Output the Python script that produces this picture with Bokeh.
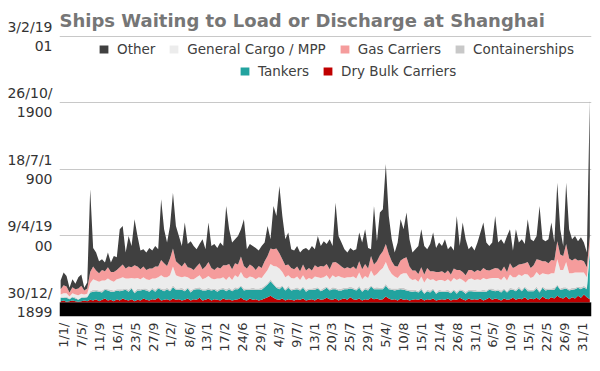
import math
import pandas as pd
from bokeh.plotting import figure
from bokeh.models import (ColumnDataSource, Range1d, FixedTicker, Legend,
                          LegendItem, BoxAnnotation)
from bokeh.embed import file_html
from bokeh.resources import INLINE

# ---------------- data ----------------
start_date = "2013-12-09"
step = "21D"

# top of the stack (total ships waiting)
total_waiting = [
    33, 45, 40, 22, 35, 28, 38, 42, 22, 30,
    170, 82, 75, 62, 65, 60, 75, 60, 70, 68,
    110, 115, 75, 100, 85, 125, 100, 78, 80, 75,
    82, 78, 85, 80, 155, 110, 90, 115, 165, 115,
    100, 85, 120, 88, 92, 85, 80, 88, 95, 80,
    120, 85, 88, 82, 90, 85, 145, 110, 90, 95,
    100, 110, 125, 80, 88, 85, 82, 78, 85, 90,
    115, 95, 145, 130, 175, 130, 95, 105, 80, 78,
    85, 75, 80, 82, 78, 85, 80, 100, 85, 92,
    88, 95, 85, 150, 100, 90, 80, 75, 82, 78,
    80, 105, 90, 110, 82, 80, 145, 92, 135, 140,
    208, 130, 95, 75, 90, 125, 110, 135, 95, 75,
    80, 85, 110, 85, 80, 88, 105, 82, 90, 85,
    95, 80, 85, 78, 130, 85, 120, 95, 80, 85,
    78, 90, 105, 120, 90, 85, 90, 130, 90, 95,
    88, 100, 110, 78, 110, 90, 95, 88, 125, 95,
    92, 100, 145, 95, 92, 95, 120, 90, 180, 110,
    85, 180, 110, 95, 100, 92, 98, 90, 75, 305,
]

dry_bulk = [
    2, 3, 1, 2, 3, 2, 1, 2, 3, 2,
    4, 3, 5, 2, 4, 6, 3, 4, 2, 5,
    3, 6, 4, 3, 5, 2, 4, 3, 6, 4,
    3, 5, 4, 7, 3, 4, 5, 3, 6, 4,
    5, 3, 4, 6, 3, 5, 4, 7, 3, 4,
    6, 3, 5, 4, 3, 6, 4, 5, 3, 4,
    5, 7, 4, 3, 6, 4, 5, 3, 4, 6,
    8, 10, 7, 5, 4, 6, 3, 5, 4, 3,
    5, 4, 6, 3, 4, 5, 3, 6, 4, 5,
    7, 5, 4, 6, 3, 5, 6, 4, 8, 5,
    4, 6, 3, 5, 4, 7, 5, 6, 4, 5,
    9, 6, 4, 5, 3, 6, 4, 5, 3, 4,
    5, 4, 6, 3, 5, 4, 6, 3, 4, 5,
    4, 6, 3, 5, 4, 7, 5, 3, 6, 4,
    5, 4, 6, 3, 5, 7, 4, 6, 5, 3,
    6, 4, 5, 7, 4, 6, 5, 8, 4, 6,
    5, 7, 4, 9, 6, 5, 8, 6, 10, 7,
    6, 9, 5, 8, 6, 10, 7, 12, 8, 5,
]

tankers = [
    5, 4, 6, 3, 5, 4, 3, 5, 4, 6,
    11, 13, 12, 14, 11, 13, 15, 12, 14, 13,
    14, 12, 15, 13, 16, 12, 14, 15, 13, 14,
    13, 15, 12, 14, 16, 13, 15, 14, 17, 15,
    14, 16, 13, 15, 12, 14, 16, 13, 15, 14,
    13, 15, 14, 12, 16, 14, 13, 15, 14, 16,
    15, 17, 14, 16, 13, 15, 14, 16, 15, 17,
    19, 22, 20, 17, 16, 18, 15, 17, 14, 16,
    15, 14, 16, 13, 15, 14, 16, 15, 13, 14,
    15, 13, 16, 14, 15, 13, 14, 16, 13, 15,
    14, 16, 13, 15, 14, 17, 15, 14, 16, 15,
    16, 14, 15, 13, 16, 14, 15, 13, 14, 12,
    12, 11, 13, 10, 12, 11, 13, 10, 12, 11,
    12, 10, 11, 13, 9, 11, 12, 10, 11, 13,
    11, 12, 10, 13, 11, 12, 14, 11, 13, 12,
    13, 11, 14, 12, 13, 15, 12, 14, 13, 11,
    12, 14, 11, 13, 12, 14, 11, 13, 15, 12,
    14, 12, 13, 11, 14, 12, 13, 11, 12, 72,
]

containerships = [
    1, 1, 2, 1, 1, 2, 1, 1, 2, 1,
    2, 3, 2, 2, 3, 2, 2, 3, 2, 2,
    3, 2, 2, 3, 2, 2, 3, 2, 2, 3,
    2, 2, 3, 2, 2, 3, 2, 2, 3, 2,
    2, 3, 2, 2, 3, 2, 2, 3, 2, 2,
    3, 2, 2, 3, 2, 2, 3, 2, 2, 3,
    2, 2, 3, 2, 2, 3, 2, 2, 3, 2,
    2, 3, 2, 2, 3, 2, 2, 3, 2, 2,
    3, 2, 2, 3, 2, 2, 3, 2, 2, 3,
    2, 2, 3, 2, 2, 3, 2, 2, 3, 2,
    2, 3, 2, 2, 3, 2, 2, 3, 2, 2,
    3, 2, 2, 3, 2, 2, 3, 2, 2, 3,
    2, 2, 3, 2, 2, 3, 2, 2, 3, 2,
    2, 3, 2, 2, 3, 2, 2, 3, 2, 2,
    3, 2, 2, 3, 2, 2, 3, 2, 2, 3,
    2, 2, 3, 2, 2, 3, 2, 2, 3, 2,
    2, 3, 2, 2, 3, 2, 2, 3, 2, 2,
    3, 2, 2, 3, 2, 2, 3, 2, 2, 2,
]

general_cargo = [
    4, 6, 5, 3, 5, 4, 6, 5, 3, 4,
    12, 16, 14, 13, 15, 12, 16, 14, 13, 15,
    16, 18, 15, 17, 14, 20, 16, 15, 17, 14,
    16, 14, 17, 15, 20, 18, 16, 22, 28, 20,
    18, 16, 20, 15, 17, 14, 16, 18, 15, 17,
    18, 16, 14, 17, 15, 16, 14, 17, 15, 18,
    16, 20, 17, 15, 18, 16, 14, 17, 15, 18,
    20, 23, 26, 30, 28, 20, 18, 16, 17, 15,
    16, 14, 17, 15, 16, 14, 17, 15, 18, 16,
    17, 15, 18, 16, 20, 17, 15, 16, 14, 17,
    16, 20, 17, 18, 16, 22, 18, 20, 26, 30,
    33, 28, 22, 18, 16, 20, 22, 24, 18, 15,
    16, 14, 17, 15, 18, 16, 14, 17, 15, 16,
    14, 16, 15, 17, 18, 16, 15, 14, 16, 17,
    15, 17, 16, 18, 17, 15, 16, 18, 17, 16,
    18, 16, 20, 17, 19, 18, 21, 19, 22, 18,
    20, 22, 24, 20, 22, 21, 23, 22, 38, 28,
    26, 38, 24, 22, 23, 21, 22, 20, 16, 5,
]

gas_carriers = [
    8, 12, 10, 6, 9, 8, 10, 12, 6, 8,
    17, 19, 15, 13, 16, 14, 17, 13, 15, 14,
    17, 19, 15, 18, 16, 20, 17, 15, 16, 14,
    17, 15, 18, 16, 23, 21, 17, 25, 27, 21,
    19, 16, 21, 15, 17, 14, 16, 18, 15, 17,
    21, 16, 14, 17, 15, 18, 22, 19, 16, 18,
    19, 23, 17, 15, 18, 16, 14, 17, 15, 19,
    21, 23, 25, 27, 23, 19, 18, 16, 15, 14,
    15, 13, 16, 14, 15, 13, 17, 15, 18, 16,
    17, 15, 19, 23, 18, 16, 14, 15, 13, 15,
    14, 17, 15, 18, 14, 22, 17, 19, 23, 25,
    27, 23, 19, 16, 17, 21, 22, 24, 17, 14,
    13, 12, 14, 12, 15, 13, 12, 14, 12, 13,
    12, 13, 11, 14, 15, 13, 12, 11, 14, 13,
    12, 14, 13, 15, 14, 12, 13, 15, 14, 13,
    15, 13, 17, 14, 16, 15, 18, 16, 19, 15,
    17, 19, 23, 18, 19, 17, 20, 19, 27, 23,
    21, 27, 22, 19, 21, 18, 19, 17, 15, 15,
]

tick_dates = [
    "2014-01-01", "2014-05-07", "2014-09-11", "2015-01-16", "2015-05-23",
    "2015-09-27", "2016-02-01", "2016-06-08", "2016-10-13", "2017-02-17",
    "2017-06-24", "2017-10-29", "2018-03-04", "2018-07-09", "2018-11-13",
    "2019-03-20", "2019-07-25", "2019-11-29", "2020-04-05", "2020-08-10",
    "2020-12-15", "2021-04-21", "2021-08-26", "2021-12-31", "2022-05-06",
    "2022-09-10", "2023-01-15", "2023-05-22", "2023-09-26", "2024-01-31",
]
tick_labels = [
    "1/1/", "7/5/", "11/9", "16/1", "23/5", "27/9", "1/2/", "8/6/", "13/1", "17/2",
    "24/6", "29/1", "4/3/", "9/7/", "13/1", "20/3", "25/7", "29/1", "5/4/", "10/8",
    "15/1", "21/4", "26/8", "31/1", "6/5/", "10/9", "15/1", "22/5", "26/9", "31/1",
]

y_ticks = [0, 100, 200, 300, 400]
y_tick_labels = ["30/12/\n1899", "9/4/19\n00", "18/7/1\n900", "26/10/\n1900", "3/2/19\n01"]

series_names = ["Dry Bulk Carriers", "Tankers", "Containerships",
                "General Cargo / MPP", "Gas Carriers", "Other"]
series_colors = ["#c00000", "#22a39f", "#c8c8c8", "#ececec", "#f59c9c", "#404040"]

# ---------------- build ----------------
dates = pd.date_range(start_date, periods=len(total_waiting), freq=step)
other = [t - (a + b + c + d + e) for t, a, b, c, d, e in
         zip(total_waiting, dry_bulk, tankers, containerships, general_cargo, gas_carriers)]

keys = ["dry", "tank", "cont", "gen", "gas", "other"]
source = ColumnDataSource(dict(date=dates, dry=dry_bulk, tank=tankers, cont=containerships,
                               gen=general_cargo, gas=gas_carriers, other=other))

p = figure(width=592, height=363, x_axis_type="datetime",
           x_range=Range1d(pd.Timestamp("2013-12-01"), pd.Timestamp("2024-04-06")),
           y_range=Range1d(-21, 401),
           output_backend="svg", toolbar_location=None,
           min_border_left=59, min_border_right=1, min_border_bottom=47, min_border_top=35)

renderers = p.varea_stack(stackers=keys, x="date", color=series_colors, source=source)

p.add_layout(BoxAnnotation(top=0, bottom=-21, fill_color="black", fill_alpha=1.0,
                           line_alpha=0))

# title
p.title.text = "Ships Waiting to Load or Discharge at Shanghai"
p.title.text_font = "DejaVu Sans"
p.title.text_font_size = "18px"
p.title.text_font_style = "bold"
p.title.text_color = "#767676"
p.title.offset = 0
p.title.standoff = 9

# axes
p.outline_line_color = None
p.xgrid.grid_line_color = None
p.ygrid.grid_line_color = "#c8c8c8"
p.ygrid.grid_line_width = 1

tick_ms = [pd.Timestamp(d).value // 10**6 for d in tick_dates]
p.xaxis.ticker = FixedTicker(ticks=tick_ms)
p.xaxis.major_label_overrides = {t: lab for t, lab in zip(tick_ms, tick_labels)}
p.xaxis.major_label_orientation = math.pi / 2
p.xaxis.axis_line_color = None
p.xaxis.major_tick_line_color = None
p.xaxis.minor_tick_line_color = None
p.xaxis.major_tick_out = 0
p.xaxis.major_tick_in = 0
p.xaxis.minor_tick_out = 0
p.xaxis.major_label_standoff = 6
p.xaxis.major_label_text_font = "DejaVu Sans"
p.xaxis.major_label_text_font_size = "13px"
p.xaxis.major_label_text_color = "#333333"

p.yaxis.ticker = FixedTicker(ticks=y_ticks)
p.yaxis.major_label_overrides = {t: lab for t, lab in zip(y_ticks, y_tick_labels)}
p.yaxis.axis_line_color = None
p.yaxis.major_tick_line_color = None
p.yaxis.minor_tick_line_color = None
p.yaxis.major_tick_out = 0
p.yaxis.major_tick_in = 0
p.yaxis.minor_tick_out = 0
p.yaxis.major_label_standoff = 7
p.yaxis.major_label_text_font = "DejaVu Sans"
p.yaxis.major_label_text_font_size = "14px"
p.yaxis.major_label_text_color = "#333333"

# legends (two centred rows)
rmap = dict(zip(series_names, renderers))
row1 = ["Other", "General Cargo / MPP", "Gas Carriers", "Containerships"]
row2 = ["Tankers", "Dry Bulk Carriers"]


def make_legend(names, loc):
    lg = Legend(items=[LegendItem(label=n, renderers=[rmap[n]]) for n in names],
                location=loc, orientation="horizontal")
    lg.padding = 0
    lg.margin = 0
    lg.spacing = 13
    lg.glyph_width = 11
    lg.glyph_height = 10
    lg.label_height = 16
    lg.label_standoff = 8
    lg.label_text_font = "DejaVu Sans"
    lg.label_text_font_size = "13.5px"
    lg.label_text_color = "#404040"
    lg.border_line_color = None
    lg.background_fill_alpha = 0
    return lg


p.add_layout(make_legend(row1, (39, 259)))
p.add_layout(make_legend(row2, (180, 237)))

open("out.html", "w").write(file_html(p, INLINE))
